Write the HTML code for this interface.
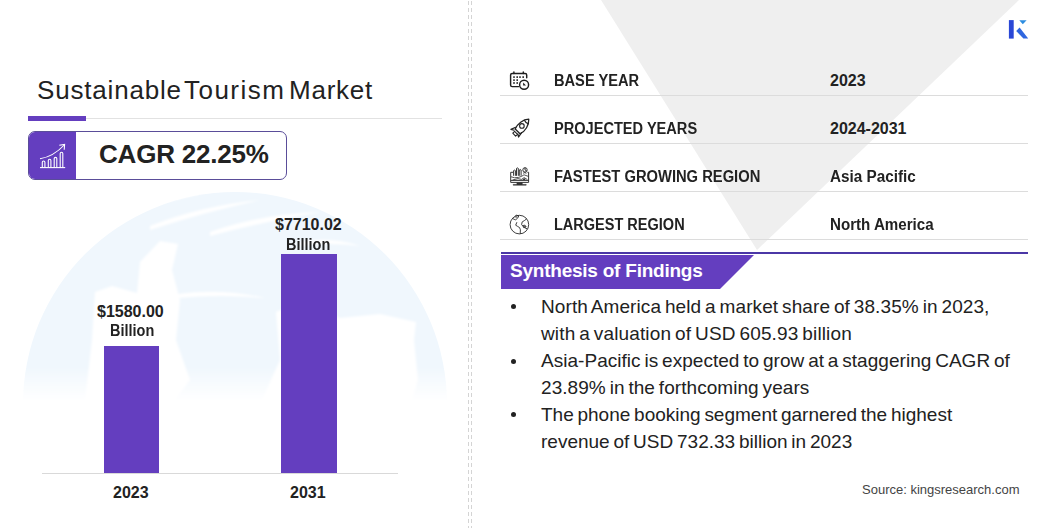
<!DOCTYPE html>
<html><head><meta charset="utf-8">
<style>
html,body{margin:0;padding:0;background:#fff;}
body{width:1056px;height:528px;position:relative;overflow:hidden;font-family:"Liberation Sans",sans-serif;color:#222;}
.a{position:absolute;}
.t{position:absolute;white-space:nowrap;line-height:1;}
.b{font-weight:bold;}
.hl{position:absolute;height:1px;background:#dcdcdc;}
</style></head>
<body>
<!-- background shapes -->
<svg class="a" style="left:0;top:0" width="1056" height="528" viewBox="0 0 1056 528">
  <defs>
    <linearGradient id="gf" x1="0" y1="0" x2="0" y2="1">
      <stop offset="0" stop-color="#fff" stop-opacity="0"/>
      <stop offset="0.72" stop-color="#fff" stop-opacity="0"/>
      <stop offset="0.9" stop-color="#fff" stop-opacity="1"/>
    </linearGradient>
  </defs>
  <polygon points="601,0 1019,0 757,250" fill="#efefef"/>
  <!-- globe -->
  <defs>
    <clipPath id="gc"><circle cx="235" cy="404" r="212"/></clipPath>
    <linearGradient id="gm" x1="0" y1="0" x2="0" y2="1">
      <stop offset="0" stop-color="#fff"/>
      <stop offset="0.72" stop-color="#fff"/>
      <stop offset="0.85" stop-color="#000"/>
    </linearGradient>
    <mask id="gmask" maskUnits="userSpaceOnUse" x="0" y="180" width="470" height="300"><rect x="0" y="180" width="470" height="260" fill="url(#gm)"/></mask>
    <filter id="gb" x="-5%" y="-5%" width="110%" height="110%"><feGaussianBlur stdDeviation="1.2"/></filter>
  </defs>
  <g mask="url(#gmask)">
  <g clip-path="url(#gc)">
    <rect x="20" y="185" width="440" height="230" fill="#f0f7fd"/>
    <g fill="#fff" filter="url(#gb)">
      <path d="M95,292 L112,286 L137,293 L140,262 L160,241 L178,244 L172,270 L180,300 L176,340 L190,380 L175,400 L85,400 L92,340 Z"/>
      <path d="M276,312 L300,302 L340,318 L380,314 L416,322 L414,340 L418,380 L412,400 L262,400 L280,360 Z"/>
      <path d="M20,180 L20,250 L60,252 L95,232 L140,208 L200,194 L240,180 Z"/>
      <path d="M178,294 Q220,288 265,298 Q220,294 178,298 Z"/>
      <path d="M150,226 Q200,206 260,200 Q205,212 150,230 Z"/>
      <path d="M210,232 Q260,214 320,212 Q262,222 210,236 Z"/>
      <path d="M300,242 Q330,236 360,246 Q330,242 300,246 Z"/>
    </g>
  </g>
  </g>
  <!-- dashed divider -->
  <line x1="468.5" y1="1" x2="468.5" y2="528" stroke="#d4d4d4" stroke-width="1" stroke-dasharray="4 3"/>
  <line x1="471.5" y1="1" x2="471.5" y2="528" stroke="#d4d4d4" stroke-width="1" stroke-dasharray="4 3"/>
</svg>

<!-- Title -->
<div class="t" style="left:37px;top:77px;font-size:26px;letter-spacing:0.82px">Sustainable</div>
<div class="t" style="left:184px;top:77px;font-size:26px;letter-spacing:1.47px">Tourism</div>
<div class="t" style="left:289px;top:77px;font-size:26px;letter-spacing:0.76px">Market</div>
<div class="a" style="left:28px;top:118px;width:414px;height:1px;background:#e2e2e2"></div>
<div class="a" style="left:28px;top:116px;width:58px;height:5px;background:#643ebf"></div>

<!-- CAGR -->
<div class="a" style="left:28px;top:131px;width:257px;height:47px;border:1px solid #5a4d99;border-radius:7px;overflow:hidden;background:#fff">
  <div class="a" style="left:0;top:0;width:47px;height:47px;background:#643ebf"></div>
</div>
<div class="t b" style="left:99px;top:141px;font-size:26px;letter-spacing:-0.2px">CAGR 22.25%</div>

<!-- chart -->
<div class="a" style="left:42px;top:473px;width:356px;height:1px;background:#d9d9d9"></div>
<div class="a" style="left:104px;top:346px;width:55px;height:127px;background:#643ebf"></div>
<div class="a" style="left:281px;top:254px;width:56px;height:219px;background:#643ebf"></div>
<div class="t b" style="left:97px;top:304px;font-size:16px;">$1580.00</div>
<div class="t b" style="left:110px;top:323px;font-size:16px;transform:scaleX(0.905);transform-origin:0 0">Billion</div>
<div class="t b" style="left:275px;top:217px;font-size:16px;">$7710.02</div>
<div class="t b" style="left:286px;top:237px;font-size:16px;transform:scaleX(0.905);transform-origin:0 0">Billion</div>
<div class="t b" style="left:113px;top:485px;font-size:16px;">2023</div>
<div class="t b" style="left:290px;top:485px;font-size:16px;">2031</div>

<!-- table -->
<div class="hl" style="left:500px;top:95px;width:528px"></div>
<div class="hl" style="left:500px;top:143px;width:528px"></div>
<div class="hl" style="left:500px;top:191px;width:528px"></div>
<div class="hl" style="left:500px;top:239px;width:528px"></div>
<div class="t b" style="left:554px;top:73px;font-size:16px;transform:scaleX(0.914);transform-origin:0 0">BASE YEAR</div>
<div class="t b" style="left:830px;top:73px;font-size:16px;">2023</div>
<div class="t b" style="left:554px;top:121px;font-size:16px;transform:scaleX(0.911);transform-origin:0 0">PROJECTED YEARS</div>
<div class="t b" style="left:830px;top:121px;font-size:16px;">2024-2031</div>
<div class="t b" style="left:554px;top:169px;font-size:16px;transform:scaleX(0.921);transform-origin:0 0">FASTEST GROWING REGION</div>
<div class="t b" style="left:830px;top:169px;font-size:16px;transform:scaleX(0.955);transform-origin:0 0">Asia Pacific</div>
<div class="t b" style="left:554px;top:217px;font-size:16px;transform:scaleX(0.907);transform-origin:0 0">LARGEST REGION</div>
<div class="t b" style="left:830px;top:217px;font-size:16px;transform:scaleX(0.945);transform-origin:0 0">North America</div>


<!-- icons -->
<svg class="a" style="left:500px;top:65px" width="40" height="35" viewBox="0 0 40 35" fill="none" stroke="#1e1e1e" stroke-width="1.45" stroke-linecap="round" stroke-linejoin="round">
  <path d="M18.6,21.6 H12.2 Q10.6,21.6 10.6,20 V9.9 Q10.6,8.4 12.2,8.4 H25.1 Q26.7,8.4 26.7,9.9 V12.8"/>
  <line x1="13.9" y1="6.9" x2="13.9" y2="8.6"/><line x1="23.3" y1="6.9" x2="23.3" y2="8.6"/>
  <g fill="#1e1e1e" stroke="none">
    <rect x="13.2" y="11.3" width="1.6" height="1.6"/><rect x="16.4" y="11.3" width="1.6" height="1.6"/><rect x="19.2" y="11.3" width="1.6" height="1.6"/><rect x="22.4" y="11.3" width="1.6" height="1.6"/>
    <rect x="13.2" y="14.3" width="1.6" height="1.6"/><rect x="16.4" y="14.3" width="1.6" height="1.6"/>
    <rect x="13.2" y="17.2" width="1.6" height="1.6"/><rect x="16.4" y="17.2" width="1.6" height="1.6"/>
    <path d="M23.1,17.4 L23.1,20.4 L26,20.4 Z"/>
  </g>
  <circle cx="24.1" cy="19.7" r="4.5"/>
</svg>
<svg class="a" style="left:505px;top:112px" width="30" height="30" viewBox="0 0 30 30" fill="none" stroke="#222" stroke-width="1.25" stroke-linecap="round" stroke-linejoin="round">
  <path d="M23.8,7.2 C18,7.4 12.4,11.6 10.2,17 L15,21.8 C20.6,19.4 24,13 23.8,7.2 Z"/>
  <path d="M19.6,8.6 Q20.6,10.9 23.1,11.7"/>
  <circle cx="16.9" cy="13.9" r="2.3" stroke-width="1.1"/>
  <path d="M10.6,15.3 L6,17.4 L9,18.2"/>
  <path d="M16.6,20.6 L13.6,25 L12.8,22"/>
  <path d="M9.6,19.4 L12.6,22.4 L10.6,24.1 L7.8,21.2 Z" stroke-width="1.1"/>
</svg>
<svg class="a" style="left:500px;top:158px" width="40" height="35" viewBox="0 0 40 35" fill="none" stroke="#2a2a2a" stroke-width="0.95" stroke-linejoin="round">
  <path d="M13,14.3 H10.7 V24.4 H28.6 V14.3 H27.4"/>
  <path d="M10.7,22.4 H28.6"/>
  <path d="M17.2,24.6 L16.6,26.4 H13.2 V27.2 H26.2 V26.4 H22.6 L22,24.6" fill="#333" stroke-width="0.5"/>
  <path d="M13.6,17.8 V12.6 Q14.5,11.6 15.4,12.6 V17.8 M16.5,17.8 V10.4 Q17.4,9.4 18.3,10.4 V17.8 M19.3,17.8 V12 Q20.2,11 21.1,12 V17.8"/>
  <circle cx="25" cy="11.9" r="2.2"/>
  <path d="M25,9.7 V11.9 L26.8,13"/>
  <path d="M11,18.8 Q14.5,20.4 18.5,19.4 Q22,18.6 24,16.8 L28.4,18.4" stroke-width="0.8"/>
  <path d="M12.5,22 L18,20.6 L21.5,21.4 L24.2,19.6 L27.4,21.6" stroke-width="0.8"/><path d="M22.4,21.9 L24.3,20 L25.6,21.9 Z" fill="#333" stroke="none"/>
  <path d="M23.2,15.2 Q24.8,14 26.4,15.2" />
</svg>
<svg class="a" style="left:500px;top:206px" width="40" height="35" viewBox="0 0 40 35" fill="none" stroke="#2a2a2a" stroke-width="0.9" stroke-linejoin="round">
  <circle cx="19.4" cy="18.6" r="9.3"/>
  <path d="M12.6,12.4 Q14.2,13.6 15.6,13.8 L17.6,12.2 L18.8,9.9 L16.6,9.2 L14.6,10.6"/>
  <path d="M15.6,11.6 L17.2,10.6" />
  <path d="M16.9,16.2 L15.7,19.2 L17.6,20.4 L19.6,21.6 L20.4,23.8 L20.2,28"/>
  <path d="M26.6,12.9 L24.4,14.6 L22.2,15.9 L21.6,18.5 L23,20.3 L25.5,22.2 L27.4,22.8"/>
  <path d="M22.8,19.6 Q24.6,18.4 26.2,20.4 Q25.6,22.4 23.6,21.6 Z" fill="#666" stroke-width="0.7"/>
</svg>
<!-- K logo -->
<svg class="a" style="left:1000px;top:14px" width="36" height="30" viewBox="0 0 36 30">
  <rect x="8.9" y="6.1" width="4.8" height="18.5" fill="#2a47d6"/>
  <polygon points="19.3,6.2 26.6,6.2 22.8,10.2" fill="#2d8de0"/>
  <polygon points="16.2,17 19.6,13.6 28.2,24.6 23.4,24.6" fill="#2f66df"/>
</svg>
<!-- CAGR icon -->
<svg class="a" style="left:28px;top:131px" width="48" height="49" viewBox="0 0 48 49" fill="none" stroke="#fff" stroke-width="1.1">
  <path d="M12,36.6 H37.2"/>
  <path d="M14.3,36.4 V31.2 Q14.3,30 15.6,30 Q16.9,30 16.9,31.2 V36.4"/>
  <path d="M20.3,36.4 V29.4 Q20.3,28.2 21.6,28.2 Q22.9,28.2 22.9,29.4 V36.4"/>
  <path d="M26.2,36.4 V27.6 Q26.2,26.4 27.5,26.4 Q28.8,26.4 28.8,27.6 V36.4"/>
  <path d="M32.2,36.4 V22.5 Q32.2,21.3 33.5,21.3 Q34.8,21.3 34.8,22.5 V36.4"/>
  <path d="M12,27.8 Q25.5,25.5 36.2,14"/>
  <path d="M31.3,14.3 L36.6,13.4 L36.2,18.8"/>
</svg>

<!-- synthesis -->
<div class="a" style="left:501px;top:252px;width:527px;height:2px;background:#4b37a6"></div>
<svg class="a" style="left:0;top:0" width="1056" height="528"><polygon points="501,255 754,255 720,289 501,289" fill="#643ebf"/></svg>
<div class="t b" style="left:510px;top:261px;font-size:19px;letter-spacing:-0.23px;color:#fff">Synthesis of Findings</div>

<div class="a" style="left:511px;top:304px;width:5px;height:5px;border-radius:50%;background:#222"></div>
<div class="a" style="left:511px;top:359px;width:5px;height:5px;border-radius:50%;background:#222"></div>
<div class="a" style="left:511px;top:412px;width:5px;height:5px;border-radius:50%;background:#222"></div>
<div class="t" style="left:541px;top:297px;font-size:19px;letter-spacing:0.09px;word-spacing:-1.5px">North America held a market share of 38.35% in 2023,</div>
<div class="t" style="left:541px;top:324px;font-size:19px;letter-spacing:0.135px;word-spacing:-1.5px">with a valuation of USD 605.93 billion</div>
<div class="t" style="left:541px;top:351px;font-size:19px;letter-spacing:0.034px;word-spacing:-1.5px">Asia-Pacific is expected to grow at a staggering CAGR of</div>
<div class="t" style="left:541px;top:378px;font-size:19px;letter-spacing:0.06px;word-spacing:-1.5px">23.89% in the forthcoming years</div>
<div class="t" style="left:541px;top:405px;font-size:19px;letter-spacing:-0.005px;word-spacing:-1.5px">The phone booking segment garnered the highest</div>
<div class="t" style="left:541px;top:432px;font-size:19px;letter-spacing:0.004px;word-spacing:-1.5px">revenue of USD 732.33 billion in 2023</div>

<div class="t" style="left:862px;top:483px;font-size:13px;color:#444">Source: kingsresearch.com</div>
</body></html>
